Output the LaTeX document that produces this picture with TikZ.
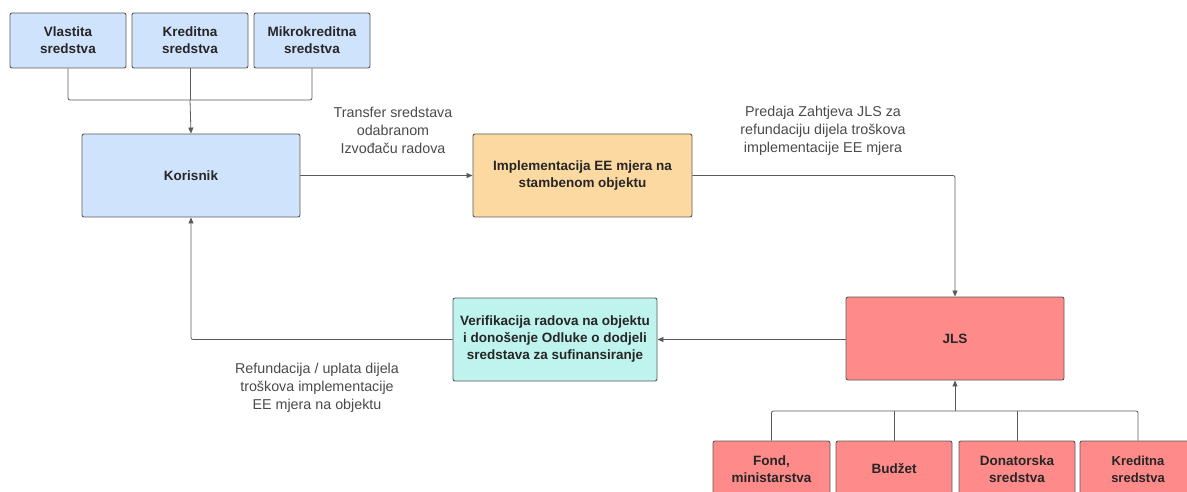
\documentclass[tikz,border=0pt]{standalone}
\usepackage{fontspec}
\setmainfont{Liberation Sans}
\usetikzlibrary{arrows.meta}
\definecolor{cblue}{HTML}{D0E3FC}
\definecolor{corange}{HTML}{FDD9A2}
\definecolor{ccyan}{HTML}{BFF3EE}
\definecolor{cred}{HTML}{FE8A8A}
\definecolor{cedge}{HTML}{5A5A5A}
\definecolor{ctext}{HTML}{4A4A4A}
\tikzset{
  box/.style={draw=cedge, line width=0.9pt, rounded corners=2pt, align=center,
    font=\fontsize{13.5}{17}\selectfont\bfseries, text=black!85, inner sep=0pt},
  bluebox/.style={box, fill=cblue},
  orangebox/.style={box, fill=corange},
  cyanbox/.style={box, fill=ccyan},
  redbox/.style={box, fill=cred},
  conn/.style={draw=cedge, line width=0.8pt, rounded corners=2pt},
  arr/.style={conn, -{Triangle[length=6pt,width=5pt]}},
  lbl/.style={align=center, font=\fontsize{14.3}{18}\selectfont, text=ctext}
}
\begin{document}
\begin{tikzpicture}[x=1pt,y=-1pt]
\useasboundingbox (0,0) rectangle (1187,492);
\clip (0,0) rectangle (1187,492);
% top sources
\node[bluebox, minimum width=116pt, minimum height=55pt] (vl) at (68,40.5) {Vlastita\\sredstva};
\node[bluebox, minimum width=116pt, minimum height=55pt] (kr) at (190,40.5) {Kreditna\\sredstva};
\node[bluebox, minimum width=116pt, minimum height=55pt] (mk) at (312,40.5) {Mikrokreditna\\sredstva};
\node[bluebox, minimum width=218pt, minimum height=83pt] (kor) at (191,175.5) {Korisnik};
\node[orangebox, minimum width=219pt, minimum height=83pt] (impl) at (582.5,175.5) {Implementacija EE mjera na\\stambenom objektu};
\node[redbox, minimum width=218pt, minimum height=83pt] (jls) at (955,338.5) {JLS};
\node[cyanbox, minimum width=204pt, minimum height=83pt] (ver) at (555,339.5) {Verifikacija radova na objektu\\i dono\v{s}enje Odluke o dodjeli\\sredstava za sufinansiranje};
% bottom sources
\node[redbox, minimum width=117pt, minimum height=56pt] (fond) at (771.5,469) {Fond,\\ministarstva};
\node[redbox, minimum width=116pt, minimum height=56pt] (bud) at (894,469) {Bud\v{z}et};
\node[redbox, minimum width=116pt, minimum height=56pt] (don) at (1017,469) {Donatorska\\sredstva};
\node[redbox, minimum width=116pt, minimum height=56pt, font=\fontsize{13}{17}\selectfont\bfseries] (kred) at (1138,469) {Kreditna\\sredstva};
% labels
\node[lbl] (l1) at (393,130) {Transfer sredstava\\odabranom\\Izvo\dj{}a\v{c}u radova};
\node[lbl] (l2) at (823,131) {Predaja Zahtjeva JLS za\\refundaciju dijela tro\v{s}kova\\implementacije EE mjera};
\node[lbl] (l3) at (317,388) {Refundacija / uplata dijela\\tro\v{s}kova implementacije\\EE mjera na objektu};
% top bracket
\coordinate (tj) at (190,100);
\draw[conn] (vl.south) |- (tj) -| (mk.south);
\draw[conn] (kr.south) -- (tj);
\draw[arr] (tj) -- (kor.north);
% main flow
\draw[arr] (kor.east) -- (impl.west);
\draw[arr] (impl.east) -| (jls.north);
\draw[arr] (jls.west |- ver.east) -- (ver.east);
\draw[arr] (ver.west) -| (kor.south);
% bottom bracket
\coordinate (bj) at (955,411);
\draw[conn] (fond.north) |- (bj) -| (kred.north);
\draw[conn] (bud.north) -- (bud.north |- bj);
\draw[conn] (don.north) -- (don.north |- bj);
\draw[arr] (bj) -- (jls.south);
\end{tikzpicture}
\end{document}
